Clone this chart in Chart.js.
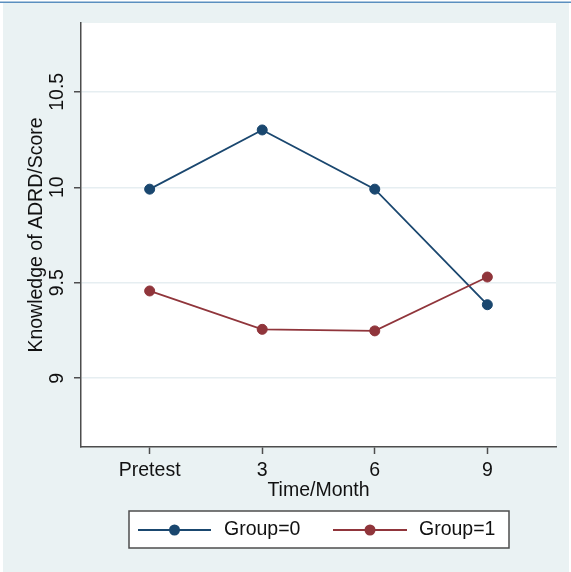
<!DOCTYPE html>
<html>
<head>
<meta charset="utf-8">
<script src="https://cdn.jsdelivr.net/npm/chart.js@4"></script>
<style>
  html, body { margin: 0; padding: 0; background: #ffffff; }
  canvas { display: block; }
</style>
</head>
<body>
<canvas id="chart" width="571" height="572"></canvas>
<script>
// Mean knowledge score by follow-up time, per group
const categories = ['Pretest', '3', '6', '9'];
const group0 = [9.99, 10.30, 9.99, 9.385];
const group1 = [9.457, 9.256, 9.248, 9.53];
const seriesLabels = ['Group=0', 'Group=1'];
const yTicks = [9, 9.5, 10, 10.5];
const xTitle = 'Time/Month';
const yTitle = 'Knowledge of ADRD/Score';

const NAVY = '#1a476f';
const MAROON = '#90353b';
const AXIS = '#4d4d4d';
const TEXT = '#111111';
const FONT = "'Liberation Sans', Arial, sans-serif";
const FS = 19.5;

const toPoints = arr => arr.map((v, i) => ({ x: i, y: v }));

// Outer panel, top rule and white plot region
const framePlugin = {
  id: 'frame',
  beforeDraw(chart) {
    const { ctx, chartArea: a } = chart;
    ctx.save();
    ctx.fillStyle = '#eaf2f3';
    ctx.fillRect(3, 3, 566, 569);
    ctx.fillStyle = '#5b8fbf';
    ctx.fillRect(0, 1.5, 571, 1.5);
    ctx.fillStyle = '#ffffff';
    ctx.fillRect(a.left, a.top, a.right - a.left, a.bottom - a.top);
    ctx.restore();
  }
};

// Vertical (rotated) y tick labels, centred on their ticks
const yLabelPlugin = {
  id: 'yLabels',
  afterDraw(chart) {
    const s = chart.scales.y;
    const ctx = chart.ctx;
    ctx.save();
    ctx.font = FS + 'px ' + FONT;
    ctx.fillStyle = TEXT;
    ctx.textAlign = 'center';
    ctx.textBaseline = 'alphabetic';
    yTicks.forEach(v => {
      const y = s.getPixelForValue(v);
      ctx.save();
      ctx.translate(63, y);
      ctx.rotate(-Math.PI / 2);
      ctx.fillText(String(v), 0, 0);
      ctx.restore();
    });
    ctx.restore();
  }
};

// Boxed legend below the plot: line with a marker, then the label
const legendPlugin = {
  id: 'legendBox',
  afterDraw(chart) {
    const ctx = chart.ctx;
    const L = 129, T = 511, R = 509, B = 548;
    const cy = 530;
    const slots = [
      { x0: 138, x1: 211, tx: 224 },
      { x0: 333, x1: 407, tx: 419 }
    ];
    ctx.save();
    ctx.fillStyle = '#ffffff';
    ctx.fillRect(L, T, R - L, B - T);
    ctx.strokeStyle = AXIS;
    ctx.lineWidth = 1.5;
    ctx.strokeRect(L, T, R - L, B - T);
    chart.data.datasets.forEach((ds, i) => {
      const sl = slots[i];
      ctx.strokeStyle = ds.borderColor;
      ctx.lineWidth = 1.8;
      ctx.beginPath();
      ctx.moveTo(sl.x0, cy);
      ctx.lineTo(sl.x1, cy);
      ctx.stroke();
      ctx.fillStyle = ds.pointBackgroundColor;
      ctx.beginPath();
      ctx.arc((sl.x0 + sl.x1) / 2, cy, 5.5, 0, Math.PI * 2);
      ctx.fill();
      ctx.fillStyle = TEXT;
      ctx.font = FS + 'px ' + FONT;
      ctx.textAlign = 'left';
      ctx.textBaseline = 'middle';
      ctx.fillText(ds.label, sl.tx, cy);
    });
    ctx.restore();
  }
};

function makeSeries(label, values, color, order) {
  return {
    label: label,
    data: toPoints(values),
    borderColor: color,
    backgroundColor: color,
    borderWidth: 1.8,
    pointRadius: 5,
    pointBorderWidth: 1,
    pointBorderColor: color,
    pointBackgroundColor: color,
    tension: 0,
    order: order
  };
}

new Chart(document.getElementById('chart'), {
  type: 'line',
  data: {
    datasets: [
      makeSeries(seriesLabels[0], group0, NAVY, 1),
      makeSeries(seriesLabels[1], group1, MAROON, 0)
    ]
  },
  options: {
    responsive: false,
    animation: false,
    layout: { padding: { left: 0, right: 15, top: 23, bottom: 0 }, autoPadding: false },
    plugins: { legend: { display: false }, tooltip: { enabled: false } },
    scales: {
      x: {
        type: 'linear',
        min: -0.61,
        max: 3.61,
        afterBuildTicks: s => { s.ticks = categories.map((_, i) => ({ value: i })); },
        afterFit: s => { s.height = 125; },
        ticks: {
          callback: v => categories[v],
          color: TEXT,
          font: { family: FONT, size: FS },
          padding: 5,
          maxRotation: 0,
          autoSkip: false
        },
        grid: { drawOnChartArea: false, drawTicks: true, tickLength: 7, tickColor: AXIS, tickWidth: 1.5 },
        border: { display: true, color: AXIS, width: 1.5 },
        title: {
          display: true, text: xTitle, color: TEXT,
          font: { family: FONT, size: FS },
          padding: { top: 0, bottom: 70 }
        }
      },
      y: {
        min: 8.64,
        max: 10.86,
        afterBuildTicks: s => { s.ticks = yTicks.map(v => ({ value: v })); },
        afterFit: s => { s.width = 81; },
        ticks: { color: 'rgba(0,0,0,0)', font: { family: FONT, size: FS } },
        grid: { color: '#e6eef1', lineWidth: 1.5, drawTicks: true, tickLength: 7, tickColor: AXIS, tickWidth: 1.5 },
        border: { display: true, color: AXIS, width: 1.5 },
        title: {
          display: true, text: yTitle, color: TEXT,
          font: { family: FONT, size: FS },
          padding: { top: 25, bottom: 0 }
        }
      }
    }
  },
  plugins: [framePlugin, yLabelPlugin, legendPlugin]
});
</script>
</body>
</html>
